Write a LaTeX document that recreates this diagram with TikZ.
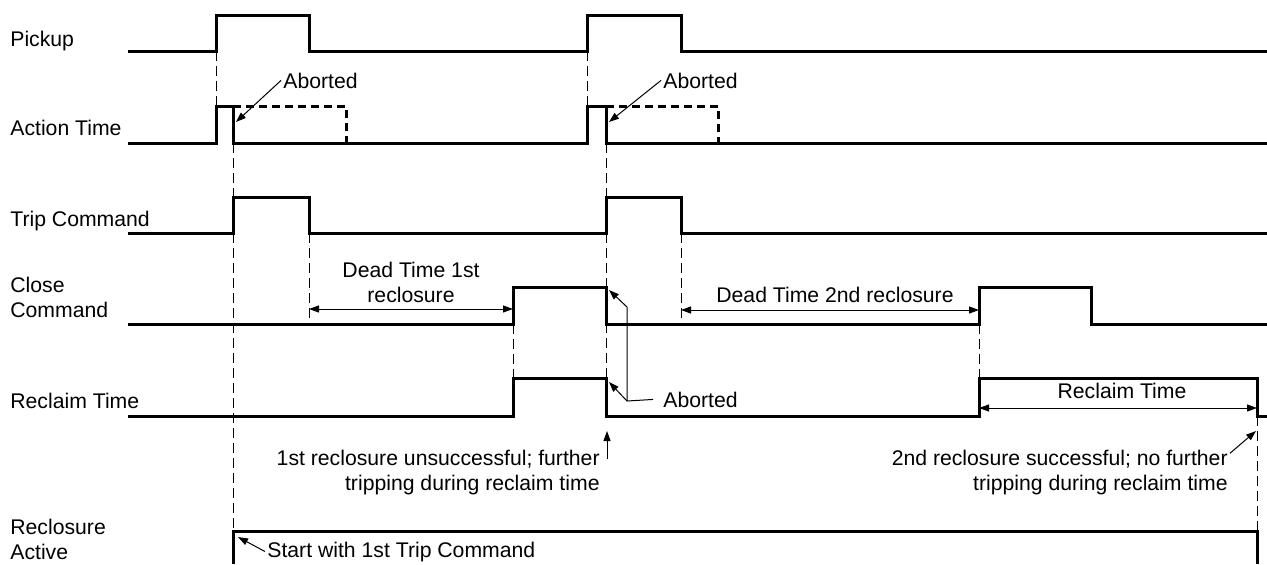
\documentclass[tikz,border=0pt]{standalone}
\usepackage{fontspec}
\setmainfont{Liberation Sans}
\usetikzlibrary{arrows.meta,positioning}

\begin{document}
\begin{tikzpicture}[x=0.5pt,y=-0.5pt,
    sig/.style={line width=1.5pt, line join=miter},
    sigdash/.style={sig, dash pattern=on 4pt off 2.5pt},
    guide/.style={line width=0.5pt, dash pattern=on 5pt off 2.5pt},
    dimline/.style={line width=0.5pt, {Triangle[length=5pt,width=3.5pt]}-{Triangle[length=5pt,width=3.5pt]}},
    callout/.style={line width=0.5pt, -{Triangle[length=5pt,width=3.5pt]}},
    lbl/.style={font=\fontsize{10.6}{12.5}\selectfont, inner sep=1pt}]
  \useasboundingbox (0,0) rectangle (1267,564);

  % dashed time guides
  \foreach \x/\ya/\yb in {216/51/106, 233/143/531, 309/233/324, 513/324/378,
      587/51/106, 606/143/416, 681/233/324, 979/324/378, 1257/416/531}
    \draw[guide] (\x,\ya) -- (\x,\yb);

  % signals
  \draw[sig] (128,51) -| (216,15) -| (309,51) -| (587,15) -| (681,51) -- (1267,51);
  \draw[sig] (128,143) -| (216,106) -| (233,143) -| (587,106) -| (606,143) -- (1267,143);
  \draw[sigdash] (233,106) -| (346,143);
  \draw[sigdash] (606,106) -| (718,143);
  \draw[sig] (128,233) -| (233,197) -| (309,233) -| (606,197) -| (681,233) -- (1267,233);
  \draw[sig] (128,324) -| (513,287) -| (606,324) -| (979,287) -| (1091,324) -- (1267,324);
  \draw[sig] (128,416) -| (513,378) -| (606,416) -| (979,378) -| (1257,416) -- (1267,416);
  \draw[sig] (233,564) |- (1257,531) -- (1257,564);

  % signal names (multi-line nodes sit on their last baseline)
  \node[lbl, anchor=base west] (pu) at (8,46) {Pickup};
  \node[lbl, anchor=base west] (act) at (8,135) {Action Time};
  \node[lbl, anchor=base west] (trip) at (8,226) {Trip Command};
  \node[lbl, anchor=base west, align=left] (close) at (8,317) {Close\\Command};
  \node[lbl, anchor=base west] (recl) at (8,408) {Reclaim Time};
  \node[lbl, anchor=base west, align=left] (ract) at (8,559) {Reclosure\\Active};

  % annotations
  \node[lbl, anchor=base west] (ab1) at (281,88) {Aborted};
  \node[lbl, anchor=base west] (ab2) at (661,88) {Aborted};
  \node[lbl, anchor=base west] (ab3) at (661,407) {Aborted};
  \node[lbl, anchor=base, align=center] (dead1) at (411,302) {Dead Time 1st\\reclosure};
  \node[lbl, anchor=base] (dead2) at (835,302) {Dead Time 2nd reclosure};
  \node[lbl, anchor=base] (rctime) at (1122,398) {Reclaim Time};
  \node[lbl, anchor=base east, align=right] (fail) at (602,490)
      {1st reclosure unsuccessful; further\\tripping during reclaim time};
  \node[lbl, anchor=base east, align=right] (ok) at (1230,490)
      {2nd reclosure successful; no further\\tripping during reclaim time};
  \node[lbl, anchor=base west] (start) at (265,557) {Start with 1st Trip Command};

  \coordinate (ab1tip) at (236,122);
  \coordinate (ab2tip) at (609,122);
  \coordinate (cctip) at (609,290);
  \coordinate (rttip) at (609,382);
  \coordinate (jn) at (627,401);
  \coordinate (jt) at (627,307);
  \coordinate (failfoot) at (607,459);
  \coordinate (failtip) at (607,431);
  \coordinate (oktip) at (1256,431);
  \coordinate (sttip) at (238,537);
  \coordinate (dt1a) at (309,309);
  \coordinate (dt1b) at (513,309);
  \coordinate (dt2a) at (681,310);
  \coordinate (dt2b) at (979,310);
  \coordinate (rca) at (979,408);
  \coordinate (rcb) at (1257,408);

  \draw[callout] (ab1.west) -- (ab1tip);
  \draw[callout] (ab2.west) -- (ab2tip);
  \draw[callout] ([xshift=-4pt]ab3.west) -- (jn) -- (rttip);
  \draw[callout] (jn) -- (jt) -- (cctip);
  \draw[callout] (failfoot) -- (failtip);
  \draw[callout] ([yshift=-3pt]ok.north east) -- (oktip);
  \draw[callout] (start.west) -- (sttip);
  \draw[dimline] (dt1a) -- (dt1b);
  \draw[dimline] (dt2a) -- (dt2b);
  \draw[dimline] (rca) -- (rcb);
\end{tikzpicture}
\end{document}
